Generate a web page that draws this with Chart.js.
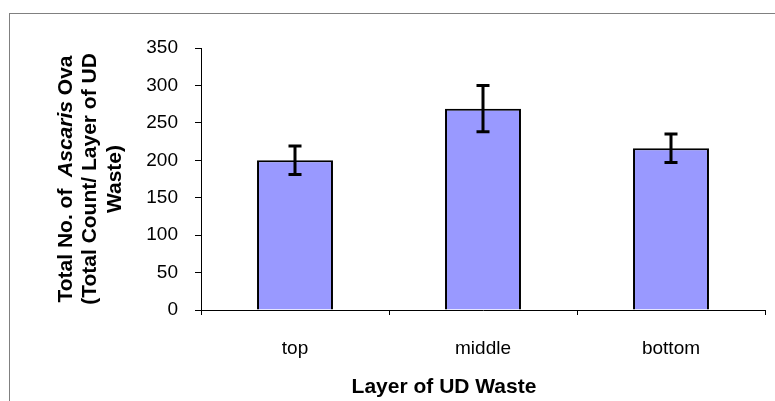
<!DOCTYPE html>
<html>
<head>
<meta charset="utf-8">
<script src="https://cdn.jsdelivr.net/npm/chart.js@4/dist/chart.umd.min.js"></script>
<style>
  html, body { margin: 0; padding: 0; background: #fff; }
  #wrap { position: relative; width: 775px; height: 401px; overflow: hidden; }
  #frame { position: absolute; left: 9px; top: 13px; width: 800px; height: 420px; border: 1px solid #808080; box-sizing: border-box; }
  canvas { position: absolute; left: 0; top: 0; }
</style>
</head>
<body>
<div id="wrap">
  <div id="frame"></div>
  <canvas id="ova-chart" width="775" height="401"></canvas>
</div>
<script>
const layers = ["top", "middle", "bottom"];
const meanOva = [200, 269, 216];
const ovaError = [19, 31, 19];
const yTicks = [0, 50, 100, 150, 200, 250, 300, 350];

const FONT = "'Liberation Sans', Arial, sans-serif";

// error bars drawn on top of each bar
const errorBars = {
    id: "errorBars",
    afterDatasetsDraw(chart) {
        const ctx = chart.ctx;
        const yScale = chart.scales.y;
        const meta = chart.getDatasetMeta(0);
        ctx.save();
        ctx.strokeStyle = "#000";
        ctx.lineWidth = 3;
        meta.data.forEach((bar, i) => {
            const x = bar.x;
            const hi = yScale.getPixelForValue(meanOva[i] + ovaError[i]);
            const lo = yScale.getPixelForValue(meanOva[i] - ovaError[i]);
            ctx.beginPath();
            ctx.moveTo(x, hi);
            ctx.lineTo(x, lo);
            ctx.moveTo(x - 6.5, hi);
            ctx.lineTo(x + 6.5, hi);
            ctx.moveTo(x - 6.5, lo);
            ctx.lineTo(x + 6.5, lo);
            ctx.stroke();
        });
        ctx.restore();
    }
};

// axis titles; the y title has the genus name in italics
const axisTitles = {
    id: "axisTitles",
    afterDraw(chart) {
        const ctx = chart.ctx;
        const area = chart.chartArea;
        const cy = (area.top + area.bottom) / 2;
        const lines = [
            { x: 66, parts: [["Total No. of  ", ""], ["Ascaris", "italic "], [" Ova", ""]] },
            { x: 90.5, parts: [["(Total Count/ Layer of UD", ""]] },
            { x: 115, parts: [["Waste)", ""]] }
        ];
        ctx.save();
        ctx.fillStyle = "#000";
        ctx.textBaseline = "middle";
        ctx.textAlign = "left";
        lines.forEach(line => {
            ctx.save();
            ctx.translate(line.x, cy);
            ctx.rotate(-Math.PI / 2);
            let total = 0;
            line.parts.forEach(p => {
                ctx.font = p[1] + "bold 21px " + FONT;
                total += ctx.measureText(p[0]).width;
            });
            let pos = -total / 2;
            line.parts.forEach(p => {
                ctx.font = p[1] + "bold 21px " + FONT;
                ctx.fillText(p[0], pos, 0);
                pos += ctx.measureText(p[0]).width;
            });
            ctx.restore();
        });

        ctx.font = "bold 21px " + FONT;
        ctx.textAlign = "center";
        ctx.textBaseline = "alphabetic";
        ctx.fillText("Layer of UD Waste", 444, 393);
        ctx.restore();
    }
};

new Chart(document.getElementById("ova-chart"), {
    type: "bar",
    data: {
        labels: layers,
        datasets: [{
            label: "Ascaris ova",
            data: meanOva,
            backgroundColor: "#9999FF",
            borderColor: "#000",
            borderWidth: 2,
            categoryPercentage: 1,
            barPercentage: 0.404
        }]
    },
    options: {
        responsive: false,
        animation: false,
        devicePixelRatio: 1,
        layout: { padding: { top: 48, right: 10, left: 0, bottom: 0 } },
        plugins: {
            legend: { display: false },
            tooltip: { enabled: false }
        },
        scales: {
            x: {
                grid: { offset: true, drawOnChartArea: false, tickLength: 5, color: "#000" },
                border: { color: "#000", width: 1 },
                ticks: { color: "#000", font: { family: FONT, size: 19 }, padding: 22 },
                afterFit(scale) { scale.height = 91; }
            },
            y: {
                min: 0,
                max: 350,
                afterBuildTicks(scale) { scale.ticks = yTicks.map(v => ({ value: v })); },
                grid: { drawOnChartArea: false, tickLength: 6, color: "#000" },
                border: { color: "#000", width: 1 },
                ticks: { color: "#000", font: { family: FONT, size: 19 }, padding: 17 },
                afterFit(scale) { scale.width = 201; }
            }
        }
    },
    plugins: [errorBars, axisTitles]
});
</script>
</body>
</html>
